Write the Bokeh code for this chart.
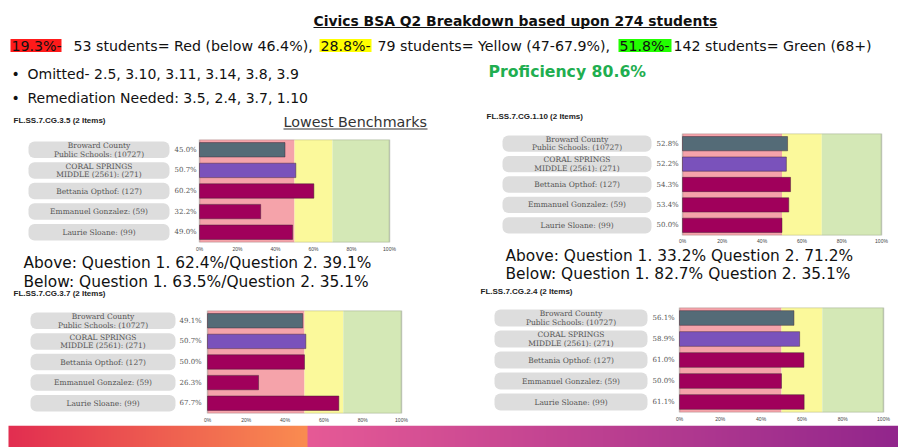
import numpy as np
from bokeh.plotting import figure
from bokeh.layouts import column, row
from bokeh.models import (Range1d, FactorRange, BoxAnnotation, LinearAxis, FixedTicker,
                          PrintfTickFormatter, ColumnDataSource)
from bokeh.core.properties import value
from bokeh.embed import file_html
from bokeh.resources import INLINE

# ---------------- data ----------------
categories = ["Broward County Public Schools: (10727)", "CORAL SPRINGS MIDDLE (2561): (271)",
              "Bettania Opthof: (127)", "Emmanuel Gonzalez: (59)", "Laurie Sloane: (99)"]
category_labels = ["Broward County\nPublic Schools: (10727)", "CORAL SPRINGS\nMIDDLE (2561): (271)",
                   "Bettania Opthof: (127)", "Emmanuel Gonzalez: (59)", "Laurie Sloane: (99)"]
bar_colors = ["#546b77", "#7a52bb", "#a0005b", "#a0005b", "#a0005b"]

cg_3_5 = [45.0, 50.7, 60.2, 32.2, 49.0]
cg_1_10 = [52.8, 52.2, 54.3, 53.4, 50.0]
cg_3_7 = [49.1, 50.7, 50.0, 26.3, 67.7]
cg_2_4 = [56.1, 58.9, 61.0, 50.0, 61.1]
chart_titles = ["FL.SS.7.CG.3.5 (2 Items)", "FL.SS.7.CG.1.10 (2 Items)",
                "FL.SS.7.CG.3.7 (2 Items)", "FL.SS.7.CG.2.4 (2 Items)"]

band_edges = [0, 50, 70, 100]
band_colors = ["#f5a3aa", "#fbf99b", "#d4e8b6"]
tick_values = [0, 20, 40, 60, 80, 100]

header_title = "Civics BSA Q2 Breakdown based upon 274 students"
group_shares = ["19.3%-", "28.8%-", "51.8%-"]
group_texts = ["53 students= Red (below 46.4%),", "79 students= Yellow (47-67.9%),",
               "142 students= Green (68+)"]
highlight_colors = ["#ff1a1a", "#ffff00", "#22ff00"]
bullets = ["Omitted- 2.5, 3.10, 3.11, 3.14, 3.8, 3.9", "Remediation Needed: 3.5, 2.4, 3.7, 1.10"]
proficiency = "Proficiency 80.6%"
subtitle = "Lowest Benchmarks"
above_below_left = ["Above: Question 1. 62.4%/Question 2. 39.1%",
                    "Below:  Question 1. 63.5%/Question 2. 35.1%"]
above_below_right = ["Above: Question 1. 33.2% Question 2. 71.2%",
                     "Below: Question 1.  82.7% Question 2. 35.1%"]

SANS = "DejaVu Sans"


def canvas(x0, x1, y0, y1):
    p = figure(width=x1 - x0, height=y1 - y0, x_range=Range1d(x0, x1), y_range=Range1d(y1, y0),
               x_axis_type=None, y_axis_type=None, min_border=0, toolbar_location=None,
               output_backend="svg", outline_line_color=None)
    return p


def txt(p, x, y, s, size, color="#111111", bold=False, font=SANS, align="left"):
    p.text(x=[x], y=[y], text=[s], text_font=value(font), text_font_size=f"{size}px",
           text_font_style="bold" if bold else "normal", text_color=color,
           text_baseline="middle", text_align=align)


def chart(vals, fx0, fx1, band_l, band_r, pill_l, pill_r, val_x, frame_h, bottom, standoff):
    u = (band_r - band_l) / 100.0
    p = figure(width=fx1 - fx0, height=frame_h + bottom,
               x_range=Range1d((fx0 - band_l) / u, (fx1 - band_l) / u),
               y_range=FactorRange(factors=categories[::-1]),
               x_axis_type=None, y_axis_type=None, min_border=0, min_border_bottom=bottom,
               toolbar_location=None, output_backend="svg", outline_line_color=None)
    for l, r, c in zip(band_edges[:-1], band_edges[1:], band_colors):
        p.add_layout(BoxAnnotation(left=l, right=r, fill_color=c, fill_alpha=1,
                                   line_color=None, level="underlay"))
    p.add_layout(BoxAnnotation(left=band_edges[0], right=band_edges[-1], fill_color=None,
                               line_color="#4f584c", line_width=1.5, level="underlay"))
    src = ColumnDataSource(dict(cat=categories, val=vals, col=bar_colors, lab=category_labels,
                                txt=[f"{v:.1f}%" for v in vals]))
    p.hbar(y="cat", left=0, right="val", height=0.7, fill_color="col", line_color="#3a2030",
           line_alpha=0.45, source=src)
    p.hbar(y="cat", left=(pill_l - band_l) / u, right=(pill_r - band_l) / u, height=0.8,
           fill_color="#dddddd", line_color=None, border_radius=6, source=src)
    p.text(x=((pill_l + pill_r) / 2 - band_l) / u, y="cat", text="lab", source=src,
           text_align="center", text_baseline="middle", text_font=value("DejaVu Serif"),
           text_font_size="7.5px", text_color="#555555", text_line_height=0.95)
    p.text(x=(val_x - band_l) / u, y="cat", text="txt", source=src,
           text_align="left", text_baseline="middle", text_font=value("DejaVu Serif"),
           text_font_size="7px", text_color="#555555")
    ax = LinearAxis(ticker=FixedTicker(ticks=tick_values),
                    formatter=PrintfTickFormatter(format="%d%%"),
                    axis_line_color=None, major_tick_line_color=None, minor_tick_line_color=None,
                    major_tick_in=0, major_tick_out=0, major_label_standoff=standoff,
                    major_label_text_font_size="5px", major_label_text_color="#444444",
                    major_label_text_font="Liberation Sans")
    p.add_layout(ax, "below")
    return p


# ---------------- header ----------------
header = canvas(0, 898, 0, 110)
txt(header, 313, 20, header_title, 13.9, bold=True)
header.segment(x0=[313], x1=[717], y0=[27], y1=[27], line_color="#111111", line_width=1.2)
share_x = [10, 319, 618]
share_w = [51, 52, 53]
text_x = [73, 377, 673]
for sx, sw, tx, sh, gt, hc in zip(share_x, share_w, text_x, group_shares, group_texts, highlight_colors):
    header.quad(left=[sx], right=[sx + sw], top=[38.5], bottom=[51.5], fill_color=hc, line_color=None)
    txt(header, sx + 1, 45, sh, 14.2)
    txt(header, tx, 45, gt, 14.2)
for yy, b in zip([73, 97], bullets):
    txt(header, 11, yy, "•", 14)
    txt(header, 27, yy, b, 14)
txt(header, 488, 71, proficiency, 15.7, color="#1fae50", bold=True)

# ---------------- left column ----------------
L1 = canvas(0, 448, 110, 139)
txt(L1, 13, 120, chart_titles[0], 8, color="#222222", bold=True, font="Liberation Sans")
txt(L1, 283, 121, subtitle, 14.3, color="#333333")
L1.segment(x0=[283], x1=[427], y0=[128.5], y1=[128.5], line_color="#333333", line_width=1)

TL = chart(cg_3_5, 0, 448, 199, 389, 28, 169, 174, 105, 10, 3)

L2 = canvas(0, 448, 254, 310)
txt(L2, 23, 262, above_below_left[0], 15.4)
txt(L2, 23, 281, above_below_left[1], 15.4)
txt(L2, 13, 293, chart_titles[2], 8, color="#222222", bold=True, font="Liberation Sans")

BL = chart(cg_3_7, 0, 448, 207, 401, 30, 175, 179, 103, 12, 3)

# ---------------- right column ----------------
R1 = canvas(448, 898, 110, 133)
txt(R1, 486, 116, chart_titles[1], 8, color="#222222", bold=True, font="Liberation Sans")

TR = chart(cg_1_10, 448, 898, 682, 881, 502, 651, 656, 104, 9, 2)

R2 = canvas(448, 898, 246, 307)
txt(R2, 505, 255, above_below_right[0], 15.4)
txt(R2, 505, 273, above_below_right[1], 15.4)
txt(R2, 480, 291, chart_titles[3], 8, color="#222222", bold=True, font="Liberation Sans")

BR = chart(cg_2_4, 448, 898, 679, 883, 494, 647, 652, 105, 13, 3)

# ---------------- bottom gradient bar ----------------
bottom = canvas(0, 898, 425, 447)
bar_x0, bar_x1, split_x = 8, 898, 307
N = bar_x1 - bar_x0
split = split_x - bar_x0
img = np.zeros((1, N), dtype=np.uint32)
view = img.view(dtype=np.uint8).reshape((1, N, 4))
c_a0, c_a1 = np.array([226, 46, 80]), np.array([250, 140, 80])
c_b0, c_b1 = np.array([230, 90, 150]), np.array([146, 38, 140])
for i in range(N):
    if i < split:
        t = i / (split - 1)
        c = c_a0 + (c_a1 - c_a0) * t
    else:
        t = (i - split) / (N - split - 1)
        c = c_b0 + (c_b1 - c_b0) * t
    view[0, i, :3] = c.astype(np.uint8)
    view[0, i, 3] = 255
bottom.image_rgba(image=[img], x=bar_x0, y=425, dw=N, dh=22)

layout = column(header,
                row(column(L1, TL, L2, BL), column(R1, TR, R2, BR)),
                bottom)

open("out.html", "w").write(file_html(layout, INLINE))
